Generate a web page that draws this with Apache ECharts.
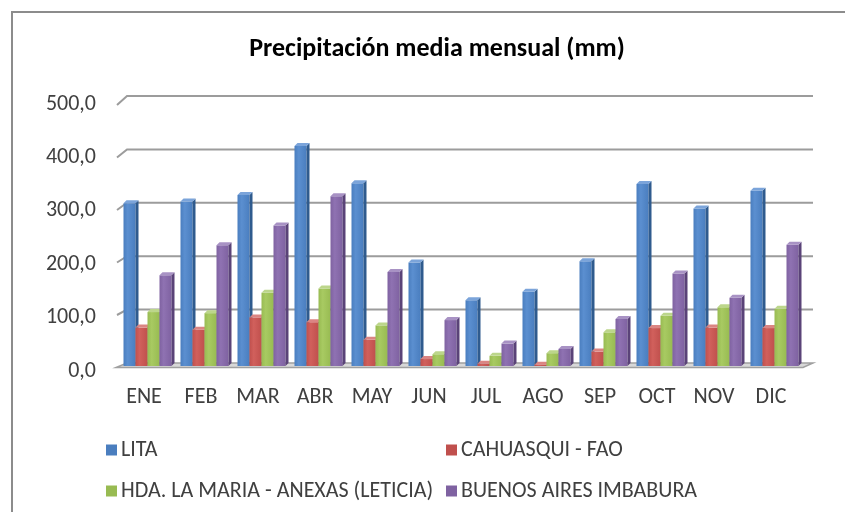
<!DOCTYPE html>
<html>
<head>
<meta charset="utf-8">
<script src="https://cdn.jsdelivr.net/npm/echarts@6/dist/echarts.min.js"></script>
<style>
  html, body { margin: 0; padding: 0; background: #ffffff; }
  #chart { width: 845px; height: 512px; }
</style>
</head>
<body>
<div id="chart"></div>
<script>
// Monthly mean precipitation (mm) for four stations
const months = ['ENE', 'FEB', 'MAR', 'ABR', 'MAY', 'JUN', 'JUL', 'AGO', 'SEP', 'OCT', 'NOV', 'DIC'];
const stationNames = ['LITA', 'CAHUASQUI - FAO', 'HDA. LA MARIA - ANEXAS (LETICIA)', 'BUENOS AIRES IMBABURA'];
const lita        = [305, 308, 320, 412, 342, 194, 123, 139, 196, 341, 295, 328];
const cahuasqui   = [72, 68, 91, 82, 49, 13, 4, 2.5, 27, 71, 72, 71];
const laMaria     = [101, 99, 137, 145, 76, 22, 19, 24, 63, 94, 110, 107];
const buenosAires = [170, 226, 263, 318, 176, 86, 42, 32, 88, 173, 128, 227];
const yTicks = [0, 100, 200, 300, 400, 500];

const stationValues = [lita, cahuasqui, laMaria, buenosAires];
const palette = [
  { base: '#4a7ebf', light: '#5b8fd0', side: '#2f5b8e', top: '#7ba4da' },
  { base: '#c0504d', light: '#d1605c', side: '#8e3432', top: '#db8583' },
  { base: '#98bb52', light: '#a8ca62', side: '#6d8b35', top: '#bcd68b' },
  { base: '#7f62a1', light: '#8f72b2', side: '#5a4378', top: '#a892c4' }
];

const FONT = "Carlito, 'Liberation Sans Narrow', 'Open Sans', sans-serif";

// Depth of the pseudo-3D columns (pixels)
const BAR_W = 12, DX = 3, DY = 3;

function columnRenderer(s) {
  const c = palette[s];
  return function (params, api) {
    const cat = api.value(0);
    const v = api.value(1);
    const top = api.coord([cat, v]);
    const base = api.coord([cat, 0]);
    const x0 = top[0] - DX - 2 * BAR_W + BAR_W * s;
    const yt = top[1] + DY;
    const yb = base[1] + DY;
    return {
      type: 'group',
      children: [
        {
          type: 'rect',
          shape: { x: x0, y: yt, width: BAR_W, height: Math.max(yb - yt, 0) },
          style: {
            fill: new echarts.graphic.LinearGradient(0, 0, 1, 0, [
              { offset: 0, color: c.base },
              { offset: 0.35, color: c.light },
              { offset: 1, color: c.base }
            ])
          }
        },
        {
          type: 'polygon',
          shape: { points: [[x0 + BAR_W, yt], [x0 + BAR_W + DX, yt - DY], [x0 + BAR_W + DX, yb - DY], [x0 + BAR_W, yb]] },
          style: { fill: c.side }
        },
        {
          type: 'polygon',
          shape: { points: [[x0, yt], [x0 + BAR_W, yt], [x0 + BAR_W + DX, yt - DY], [x0 + DX, yt - DY]] },
          style: { fill: c.top }
        }
      ]
    };
  };
}

// Back-wall gridlines with the short slanted segment on the side wall,
// and the thin floor slab at zero.
function wallRenderer(params, api) {
  const v = api.value(1);
  const y = api.coord([0, v])[1];
  const cs = params.coordSys;
  const slantY = 4.5 + (v / 500) * 4.5;
  if (v === 0) {
    return {
      type: 'polygon',
      shape: {
        points: [
          [cs.x - 6, y + slantY],
          [cs.x + cs.width - 3, y + slantY],
          [cs.x + cs.width + 7, y],
          [cs.x + 5, y]
        ]
      },
      style: { fill: '#d8d8d8', stroke: '#a0a0a0', lineWidth: 1.5 }
    };
  }
  return {
    type: 'polyline',
    shape: { points: [[cs.x - 5, y + slantY], [cs.x + 5, y], [cs.x + cs.width + 7, y]] },
    style: { stroke: '#9c9c9c', lineWidth: 2, fill: null }
  };
}

const series = [
  {
    type: 'custom',
    name: 'wall',
    z: 1,
    silent: true,
    renderItem: wallRenderer,
    data: yTicks.map(v => [0, v]),
    encode: { x: 0, y: 1 }
  }
];
stationNames.forEach((name, s) => {
  series.push({
    type: 'custom',
    name: name,
    z: 2,
    renderItem: columnRenderer(s),
    itemStyle: { color: palette[s].base },
    data: stationValues[s].map((v, i) => [i, v]),
    encode: { x: 0, y: 1 }
  });
});

const legendText = { fontFamily: FONT, fontSize: 22, color: '#404040', padding: [0, 0, 0, -1] };

const chart = echarts.init(document.getElementById('chart'), null, { renderer: 'canvas' });
chart.setOption({
  animation: false,
  backgroundColor: '#ffffff',
  color: palette.map(p => p.base),
  textStyle: { fontFamily: FONT },
  graphic: [
    {
      type: 'rect',
      shape: { x: 12, y: 12, width: 900, height: 600 },
      style: { fill: null, stroke: '#8c8c8c', lineWidth: 2 },
      silent: true,
      z: 0
    }
  ],
  title: {
    text: 'Precipitación media mensual (mm)',
    left: 432,
    top: 31,
    textAlign: 'center',
    textStyle: { fontFamily: FONT, fontSize: 26, fontWeight: 'bold', color: '#000000' }
  },
  legend: [
    {
      data: [stationNames[0], stationNames[2]],
      orient: 'vertical',
      left: 101,
      top: 434,
      itemGap: 19,
      itemWidth: 11,
      itemHeight: 11,
      icon: 'rect',
      textStyle: legendText
    },
    {
      data: [stationNames[1], stationNames[3]],
      orient: 'vertical',
      left: 441,
      top: 434,
      itemGap: 19,
      itemWidth: 11,
      itemHeight: 11,
      icon: 'rect',
      textStyle: legendText
    }
  ],
  grid: { left: 122, right: 39, top: 96, bottom: 149 },
  xAxis: {
    type: 'category',
    data: months,
    axisLine: { show: false },
    axisTick: { show: false },
    splitLine: { show: false },
    axisLabel: {
      fontFamily: FONT,
      fontSize: 22,
      color: '#404040',
      margin: 23,
      padding: [0, 13, 0, 0]
    }
  },
  yAxis: {
    type: 'value',
    min: 0,
    max: 500,
    interval: 100,
    axisLine: { show: false },
    axisTick: { show: false },
    splitLine: { show: false },
    axisLabel: {
      fontFamily: FONT,
      fontSize: 22,
      color: '#404040',
      margin: 26,
      verticalAlign: 'top',
      lineHeight: 16,
      formatter: v => v.toFixed(1).replace('.', ',')
    }
  },
  series: series
});
</script>
</body>
</html>
